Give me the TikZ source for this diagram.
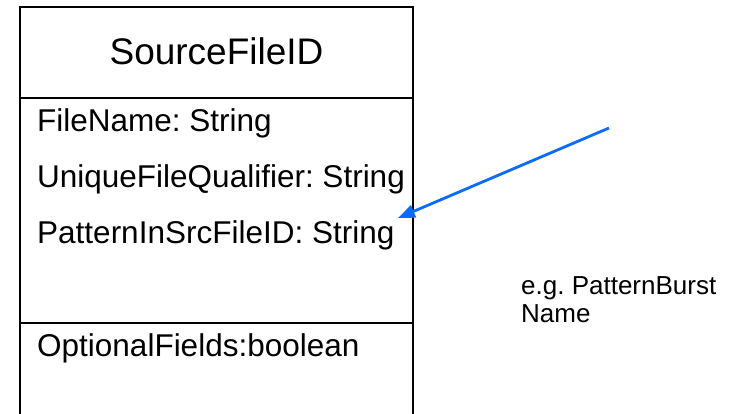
\documentclass[tikz,border=0pt]{standalone}
\usepackage{fontspec}
\setmainfont{Liberation Sans}
\usetikzlibrary{arrows.meta}
\definecolor{arrowblue}{RGB}{10,108,255}
\tikzset{
  boxline/.style={line width=2.9pt, draw=black},
  attr/.style={anchor=base west, inner sep=0pt, font=\fontsize{31.5}{36}\selectfont},
  titletext/.style={anchor=base, inner sep=0pt, font=\fontsize{37}{42}\selectfont},
  note/.style={anchor=base west, inner sep=0pt, font=\fontsize{26}{30}\selectfont},
  pointer/.style={draw=arrowblue, line width=2.8pt, -{Triangle[length=17pt,width=13pt]}}
}
\begin{document}
\frenchspacing
\begin{tikzpicture}[x=1pt,y=-1pt]
\useasboundingbox (0,0) rectangle (740,414);
% class box
\coordinate (tl) at (20,7);
\coordinate (tr) at (413,7);
\coordinate (bl) at (20,420);
\coordinate (br) at (413,420);
\coordinate (d1l) at (20,98);
\coordinate (d1r) at (413,98);
\coordinate (d2l) at (20,323);
\coordinate (d2r) at (413,323);
\draw[boxline] (bl) -- (tl) -- (tr) -- (br);
\draw[boxline] (d1l) -- (d1r);
\draw[boxline] (d2l) -- (d2r);
\node[titletext] (title) at (216.5,65) {SourceFileID};
\node[attr] (a1) at (37,132) {FileName: String};
\node[attr] (a2) at (37,188) {UniqueFileQualifier: String};
\node[attr] (a3) at (37,244) {PatternInSrcFileID: String};
\node[attr] (a4) at (37,357) {OptionalFields:boolean};
\node[note] (n1) at (521,295) {e.g. PatternBurst};
\node[note] (n2) at (521,323) {Name};
\coordinate (from) at (609,128);
\coordinate (to) at (398,218);
\draw[pointer] (from) -- (to);
\end{tikzpicture}
\end{document}
